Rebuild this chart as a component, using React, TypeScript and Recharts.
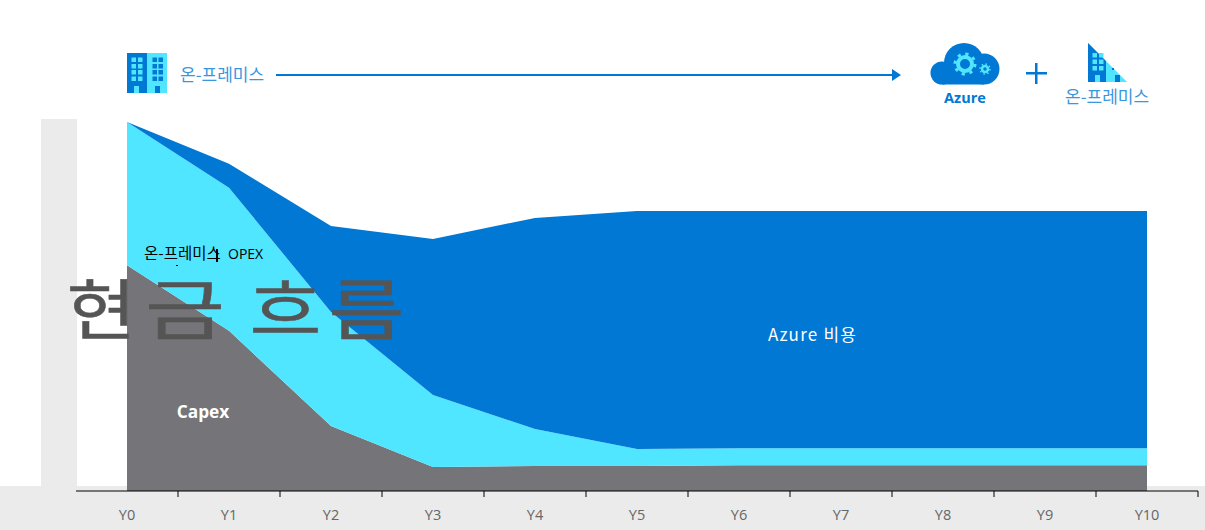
import React from "react";
import { AreaChart, Area, XAxis, YAxis } from "recharts";

const years = ["Y0", "Y1", "Y2", "Y3", "Y4", "Y5", "Y6", "Y7", "Y8", "Y9", "Y10"];
const capex = [61.2, 43.4, 17.6, 6.5, 6.8, 6.8, 7.0, 7.0, 7.0, 7.0, 7.0];
const onPremOpex = [38.8, 38.8, 30.9, 19.5, 10.0, 4.6, 4.6, 4.6, 4.6, 4.6, 4.6];
const azureCost = [0, 6.5, 23.3, 42.3, 57.2, 64.5, 64.3, 64.3, 64.3, 64.3, 64.3];
const labelTicks = [0, 1, 2, 3, 4, 5, 6, 7, 8, 9, 10];
const boundaryTicks = [0.5, 1.5, 2.5, 3.5, 4.5, 5.5, 6.5, 7.5, 8.5, 9.5, 10.5];

const rows = years.map((year, i) => ({ x: i, year, capex: capex[i], onPremOpex: onPremOpex[i], azureCost: azureCost[i] }));

const BLUE = "#0078d4";
const CYAN = "#50e6ff";
const GRAY = "#757478";
const BAND = "#ebebeb";
const LINK = "#3a96dd";
const KR = "'Noto Sans CJK KR', 'Noto Sans', sans-serif";
const LAT = "'Open Sans', 'Noto Sans', sans-serif";

const win = (xs: number[], ys: number[], fill: string, s = 4.5) =>
  xs.flatMap((x) => ys.map((y) => <rect key={`${x}-${y}`} x={x} y={y} width={s} height={s} fill={fill} />));

const BoundaryTick = (p: any) => <line x1={p.x} x2={p.x} y1={491} y2={497} stroke="#000" strokeWidth={1} />;

function Overlay() {
  return (
    <svg width={1205} height={530} style={{ position: "absolute", left: 0, top: 0, pointerEvents: "none" }}>
      {/* on-prem building */}
      <rect x={127} y={53} width={20} height={40} fill={BLUE} />
      <rect x={147} y={53} width={20} height={40} fill={CYAN} />
      {win([131.5, 138], [57.5, 64, 70, 76.5], CYAN)}
      {win([152.5, 158.5], [57.5, 64, 70, 76.5], BLUE)}
      <rect x={134} y={86} width={5} height={7} fill={CYAN} />
      <rect x={155} y={86} width={5} height={7} fill={BLUE} />
      <text x={180} y={81} fontFamily={KR} fontSize={17} fill={LINK}>온-프레미스</text>

      {/* arrow */}
      <line x1={276} y1={75} x2={895} y2={75} stroke={BLUE} strokeWidth={2} />
      <polygon points="892,69 901,75 892,81" fill={BLUE} />

      {/* Azure cloud */}
      <g fill={BLUE}>
        <circle cx={942} cy={73} r={11.5} />
        <circle cx={964} cy={63} r={20} />
        <circle cx={984} cy={69} r={15.5} />
        <rect x={942} y={70} width={42} height={14.5} />
      </g>
      <circle cx={965} cy={64} r={7} fill="none" stroke={CYAN} strokeWidth={4} />
      <circle cx={965} cy={64} r={10} fill="none" stroke={CYAN} strokeWidth={3} strokeDasharray="3.2 4.65" />
      <circle cx={985} cy={69} r={3} fill="none" stroke={CYAN} strokeWidth={2.5} />
      <circle cx={985} cy={69} r={5} fill="none" stroke={CYAN} strokeWidth={1.5} strokeDasharray="1.5 2.4" />
      <text x={965} y={103} textAnchor="middle" fontFamily={LAT} fontWeight={700} fontSize={14.5} fill={BLUE}>Azure</text>

      {/* plus */}
      <rect x={1026} y={72} width={21} height={2.5} fill={BLUE} />
      <rect x={1035} y={63} width={2.5} height={21} fill={BLUE} />

      {/* half building */}
      <polygon points="1088,43 1127,82 1088,82" fill={CYAN} />
      <polygon points="1088,43 1106,61 1106,82 1088,82" fill={BLUE} />
      {win([1092.5, 1099], [53, 59.5, 66], CYAN)}
      <rect x={1095} y={75} width={5} height={7} fill={CYAN} />
      <rect x={1115} y={75} width={5} height={7} fill={BLUE} />
      <rect x={1112} y={68} width={2} height={2} fill={BLUE} />
      <text x={1065} y={103} fontFamily={KR} fontSize={17} fill={LINK}>온-프레미스</text>

      {/* series labels */}
      <text x={144} y={259} fontFamily={KR} fontSize={15.5} fill="#000">온-프레미스</text>
      <text x={228} y={259} fontFamily={LAT} fontSize={14} fill="#000">OPEX</text>
      <rect x={216} y={249} width={2} height={13} fill="#000" />
      <rect x={176} y={265} width={2} height={1} fill="#000" />
      <text x={203} y={418} textAnchor="middle" fontFamily={LAT} fontWeight={700} fontSize={17.3} fill="#fff">Capex</text>
      <text x={768} y={341} fontFamily={KR} fontSize={17} letterSpacing={1.2} fill="#fff">Azure 비용</text>

      {/* big title */}
      <g fontFamily={KR} fontSize={66} fill="#555" stroke="#555" strokeWidth={0.5} textAnchor="middle">
        <text x={101.5} y={334} textLength={70} lengthAdjust="spacingAndGlyphs">현</text>
        <text x={185} y={334} textLength={80} lengthAdjust="spacingAndGlyphs">금</text>
        <text x={285.5} y={334} textLength={72} lengthAdjust="spacingAndGlyphs">흐</text>
        <text x={366.5} y={334} textLength={76} lengthAdjust="spacingAndGlyphs">름</text>
      </g>
    </svg>
  );
}

export default function App() {
  return (
    <div style={{ position: "absolute", left: 0, top: 0, width: 1205, height: 530, overflow: "hidden", background: "#fff" }}>
      <div style={{ position: "absolute", left: 0, top: 486, width: 1205, height: 44, background: BAND }} />
      <div style={{ position: "absolute", left: 41, top: 119, width: 36, height: 367, background: BAND }} />
      <div style={{ position: "absolute", left: 0, top: 0 }}>
        <AreaChart width={1205} height={530} data={rows} margin={{ top: 122, right: 7, bottom: 0, left: 76 }}>
          <XAxis
            xAxisId="bounds"
            dataKey="x"
            type="number"
            domain={[-0.5, 10.5]}
            ticks={boundaryTicks}
            interval={0}
            tick={BoundaryTick}
            height={1}
            tickLine={false}
            axisLine={{ stroke: "#000", strokeWidth: 1 }}
          />
          <XAxis
            xAxisId="labels"
            dataKey="x"
            type="number"
            domain={[-0.5, 10.5]}
            ticks={labelTicks}
            interval={0}
            height={38}
            axisLine={false}
            tickLine={false}
            tickSize={0}
            tickMargin={18}
            tickFormatter={(v: number) => years[v]}
            tick={{ fontFamily: LAT, fontSize: 14.5, fill: "#666" }}
          />
          <YAxis hide domain={[0, 100]} />
          <Area xAxisId="bounds" dataKey="capex" stackId="a" type="linear" stroke="none" fill={GRAY} fillOpacity={1} isAnimationActive={false} />
          <Area xAxisId="bounds" dataKey="onPremOpex" stackId="a" type="linear" stroke="none" fill={CYAN} fillOpacity={1} isAnimationActive={false} />
          <Area xAxisId="bounds" dataKey="azureCost" stackId="a" type="linear" stroke="none" fill={BLUE} fillOpacity={1} isAnimationActive={false} />
        </AreaChart>
      </div>
      <Overlay />
    </div>
  );
}
